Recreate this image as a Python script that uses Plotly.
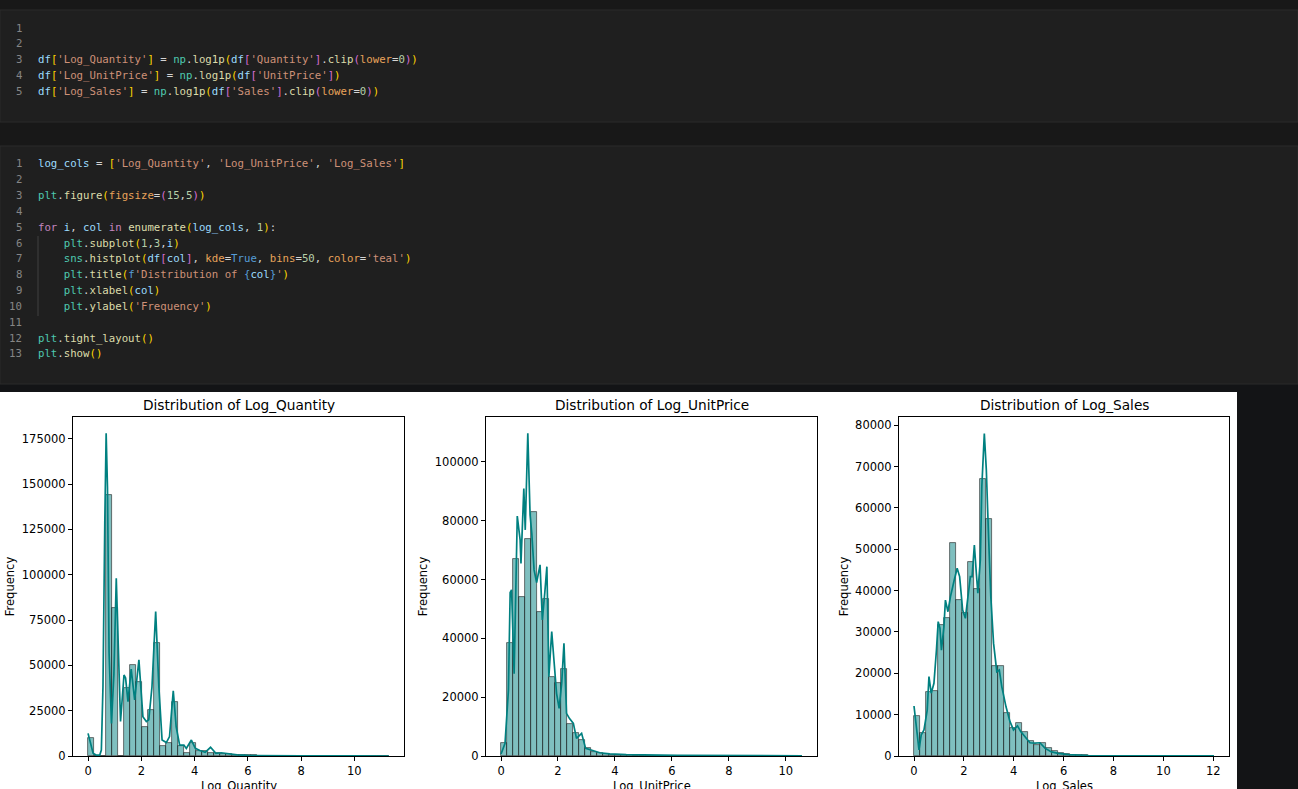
import numpy as np
import plotly.graph_objects as go
from plotly.subplots import make_subplots

W, H = 1298, 789

# ---- data ----
log_cols = ["Log_Quantity", "Log_UnitPrice", "Log_Sales"]
data_max = [11.30, 10.57, 12.03]

qty_counts = [9750, 0, 0, 143900, 81500, 0, 37700, 50050, 40850, 16000,
              25400, 62200, 5500, 7400, 30000, 5500, 1800, 7400, 2800, 2500,
              1500, 1800, 1200, 1000, 800, 600, 400, 300, 200, 150,
              100, 80, 60, 50, 40, 30, 20, 15, 10, 10,
              5, 5, 3, 2, 0, 0, 1, 0, 0, 1]
price_counts = [4300, 38500, 66900, 54000, 73700, 82900, 48900, 53400, 26800, 24700,
                29500, 11000, 7700, 5400, 2600, 1500, 1000, 700, 500, 350,
                250, 180, 120, 90, 70, 50, 40, 30, 25, 20,
                15, 12, 10, 8, 6, 5, 4, 3, 3, 2,
                2, 1, 1, 1, 0, 1, 0, 0, 0, 1]
sales_counts = [9700, 5500, 15400, 15700, 31600, 33500, 51600, 37700, 34500, 46900,
                40500, 67000, 57300, 21800, 21800, 10300, 6700, 8000, 5900, 3700,
                2700, 3200, 1900, 1200, 800, 500, 300, 200, 130, 90,
                60, 40, 30, 20, 15, 10, 8, 6, 5, 4,
                3, 2, 2, 1, 1, 1, 0, 0, 0, 1]

qty_kde_x = [0, 0.1, 0.19, 0.3, 0.44, 0.5, 0.56, 0.63, 0.68, 0.73, 0.79, 0.88,
             0.97, 1.06, 1.14, 1.22, 1.35, 1.41, 1.5, 1.62, 1.75, 1.91, 2.06,
             2.19, 2.28, 2.4, 2.54, 2.66, 2.78, 2.94, 3.06, 3.2, 3.31, 3.44,
             3.6, 3.69, 3.88, 4.03, 4.2, 4.4, 4.6, 4.8, 5.0, 5.3, 5.6, 6.0,
             7.0, 8.0, 10.0, 11.30]
qty_kde_y = [12500, 7000, 1500, 500, 500, 3300, 38000, 130000, 178000, 148000,
             57000, 18000, 45000, 98000, 60000, 19000, 44700, 43000, 30000,
             48000, 31000, 53000, 21700, 19000, 20000, 38000, 79700, 38000,
             8800, 7400, 10700, 36000, 16000, 6000, 6000, 4200, 8800, 4200,
             3000, 2000, 4800, 1500, 1800, 1200, 600, 300, 100, 50, 20, 10]

price_kde_x = [0, 0.14, 0.26, 0.32, 0.37, 0.46, 0.57, 0.67, 0.70, 0.8, 0.85,
               0.94, 1.02, 1.08, 1.16, 1.25, 1.37, 1.45, 1.54, 1.61, 1.68,
               1.78, 1.86, 1.95, 2.04, 2.13, 2.21, 2.30, 2.40, 2.54, 2.65,
               2.83, 2.97, 3.18, 3.47, 3.82, 4.4, 6.2, 8.5, 10.57]
price_kde_y = [700, 4300, 22500, 55600, 56500, 28000, 81600, 73500, 65500,
               91000, 76900, 109800, 82000, 75700, 63300, 59000, 65000, 46300,
               55900, 64400, 27000, 42300, 32400, 21300, 16200, 24700, 38300,
               14500, 12800, 11100, 6000, 7700, 2600, 2000, 1100, 700, 450,
               200, 100, 50]

sales_kde_x = [0, 0.09, 0.2, 0.29, 0.4, 0.53, 0.6, 0.69, 0.8, 0.9, 0.97, 1.04,
               1.1, 1.2, 1.26, 1.36, 1.46, 1.6, 1.73, 1.83, 1.95, 2.06, 2.17,
               2.26, 2.33, 2.42, 2.5, 2.56, 2.66, 2.72, 2.82, 2.9, 2.99, 3.08,
               3.19, 3.32, 3.42, 3.52, 3.69, 3.85, 3.99, 4.15, 4.28, 4.45,
               4.65, 4.85, 5.05, 5.25, 5.51, 5.78, 6.2, 7.0, 8.0, 10.0, 12.03]
sales_kde_y = [12100, 6700, 1500, 5100, 6300, 11100, 19200, 15200, 17600,
               25600, 32500, 30900, 25600, 31300, 37700, 34900, 38500, 42200,
               45400, 43400, 35300, 33300, 38500, 43400, 43400, 51000, 44200,
               39400, 47400, 65200, 78000, 69200, 53100, 38500, 27300, 20400,
               20800, 16800, 11900, 8300, 6300, 7300, 5900, 4700, 3200, 3100,
               3200, 1900, 1000, 650, 350, 120, 60, 30, 15]

counts = [qty_counts, price_counts, sales_counts]
kde_x = [qty_kde_x, price_kde_x, sales_kde_x]
kde_y = [qty_kde_y, price_kde_y, sales_kde_y]
y_ticks = [list(range(0, 175001, 25000)), list(range(0, 100001, 20000)),
           list(range(0, 80001, 10000))]
x_ticks = [[0, 2, 4, 6, 8, 10], [0, 2, 4, 6, 8, 10], [0, 2, 4, 6, 8, 10, 12]]


def px(x):
    return x / W


def py(y):
    return 1 - y / H


# ---- notebook code cells ----
BL, YL, PU, STR, FN, MOD, OP, NUM, KW, PAR, BLU = (
    "#9cdcfe", "#ffd700", "#da70d6", "#ce9178", "#dcdcaa", "#4ec9b0",
    "#d4d4d4", "#b5cea8", "#c586c0", "#e8a35a", "#569cd6")

cell1 = [
    [],
    [],
    [("df", BL), ("[", YL), ("'Log_Quantity'", STR), ("]", YL), (" = ", OP),
     ("np", MOD), (".", OP), ("log1p", FN), ("(", YL), ("df", BL), ("[", PU),
     ("'Quantity'", STR), ("]", PU), (".", OP), ("clip", FN), ("(", PU),
     ("lower", PAR), ("=", OP), ("0", NUM), (")", PU), (")", YL)],
    [("df", BL), ("[", YL), ("'Log_UnitPrice'", STR), ("]", YL), (" = ", OP),
     ("np", MOD), (".", OP), ("log1p", FN), ("(", YL), ("df", BL), ("[", PU),
     ("'UnitPrice'", STR), ("]", PU), (")", YL)],
    [("df", BL), ("[", YL), ("'Log_Sales'", STR), ("]", YL), (" = ", OP),
     ("np", MOD), (".", OP), ("log1p", FN), ("(", YL), ("df", BL), ("[", PU),
     ("'Sales'", STR), ("]", PU), (".", OP), ("clip", FN), ("(", PU),
     ("lower", PAR), ("=", OP), ("0", NUM), (")", PU), (")", YL)],
]

cell2 = [
    [("log_cols", BL), (" = ", OP), ("[", YL), ("'Log_Quantity'", STR), (", ", OP),
     ("'Log_UnitPrice'", STR), (", ", OP), ("'Log_Sales'", STR), ("]", YL)],
    [],
    [("plt", MOD), (".", OP), ("figure", FN), ("(", YL), ("figsize", PAR),
     ("=", OP), ("(", PU), ("15", NUM), (",", OP), ("5", NUM), (")", PU), (")", YL)],
    [],
    [("for", KW), (" ", OP), ("i", BL), (", ", OP), ("col", BL), (" ", OP),
     ("in", KW), (" ", OP), ("enumerate", FN), ("(", YL), ("log_cols", BL),
     (", ", OP), ("1", NUM), (")", YL), (":", OP)],
    [("    ", OP), ("plt", MOD), (".", OP), ("subplot", FN), ("(", YL), ("1", NUM),
     (",", OP), ("3", NUM), (",", OP), ("i", BL), (")", YL)],
    [("    ", OP), ("sns", MOD), (".", OP), ("histplot", FN), ("(", YL), ("df", BL),
     ("[", PU), ("col", BL), ("]", PU), (", ", OP), ("kde", PAR), ("=", OP),
     ("True", BLU), (", ", OP), ("bins", PAR), ("=", OP), ("50", NUM), (", ", OP),
     ("color", PAR), ("=", OP), ("'teal'", STR), (")", YL)],
    [("    ", OP), ("plt", MOD), (".", OP), ("title", FN), ("(", YL), ("f", BLU),
     ("'Distribution of ", STR), ("{", BLU), ("col", BL), ("}", BLU), ("'", STR),
     (")", YL)],
    [("    ", OP), ("plt", MOD), (".", OP), ("xlabel", FN), ("(", YL), ("col", BL),
     (")", YL)],
    [("    ", OP), ("plt", MOD), (".", OP), ("ylabel", FN), ("(", YL),
     ("'Frequency'", STR), (")", YL)],
    [],
    [("plt", MOD), (".", OP), ("tight_layout", FN), ("(", YL), (")", YL)],
    [("plt", MOD), (".", OP), ("show", FN), ("(", YL), (")", YL)],
]


def to_html(tokens):
    return "".join("<span style='color:%s'>%s</span>" % (c, t.replace(" ", "\u00a0"))
                   for t, c in tokens)


annotations = []
code_font = dict(family="DejaVu Sans Mono, Liberation Mono, monospace", size=10.7)
for cell, y0 in [(cell1, 28), (cell2, 164)]:
    for n, tokens in enumerate(cell):
        y = y0 + n * 15.83
        annotations.append(dict(x=px(24), y=py(y), xref="paper", yref="paper",
                                text=str(n + 1), showarrow=False, xanchor="right",
                                yanchor="middle", font=dict(code_font, color="#858585")))
        if tokens:
            annotations.append(dict(x=px(36), y=py(y), xref="paper", yref="paper",
                                    text=to_html(tokens), showarrow=False,
                                    xanchor="left", yanchor="middle",
                                    font=dict(code_font, color=OP)))

shapes = [
    dict(type="rect", xref="paper", yref="paper", x0=0, x1=1, y0=py(384), y1=1,
         fillcolor="#181818", line_width=0, layer="below"),
    dict(type="rect", xref="paper", yref="paper", x0=0, x1=1, y0=py(122), y1=py(10),
         fillcolor="#1f1f1f", line=dict(color="#2b2b2b", width=1), layer="below"),
    dict(type="rect", xref="paper", yref="paper", x0=0, x1=1, y0=py(384), y1=py(146),
         fillcolor="#1f1f1f", line=dict(color="#2b2b2b", width=1), layer="below"),
    dict(type="line", xref="paper", yref="paper", x0=px(38), x1=px(38),
         y0=py(316), y1=py(236), line=dict(color="#404040", width=1)),
    dict(type="rect", xref="paper", yref="paper", x0=0, x1=px(1237), y0=0, y1=py(392),
         fillcolor="white", line_width=0, layer="below"),
]

# ---- histograms ----
fig = make_subplots(rows=1, cols=3)
x_dom = [(73, 404), (486, 817), (899, 1229)]
y_top = [187000, 115300, 82000]

for i, col in enumerate(log_cols):
    edges = np.linspace(0, data_max[i], 51)
    bw = edges[1] - edges[0]
    centers = edges[:-1] + bw / 2
    fig.add_trace(go.Bar(x=centers, y=counts[i], width=bw,
                         marker=dict(color="rgba(0,128,128,0.5)",
                                     line=dict(color="rgba(30,30,30,0.75)", width=0.8)),
                         showlegend=False), row=1, col=i + 1)
    fig.add_trace(go.Scatter(x=kde_x[i], y=kde_y[i], mode="lines",
                             line=dict(color="#008080", width=1.7),
                             showlegend=False), row=1, col=i + 1)
    pad = data_max[i] * 0.05
    fig.update_xaxes(domain=[px(x_dom[i][0]), px(x_dom[i][1])],
                     range=[-pad, data_max[i] + pad], tickvals=x_ticks[i],
                     row=1, col=i + 1)
    fig.update_yaxes(domain=[py(756), py(417)], range=[0, y_top[i]],
                     tickvals=y_ticks[i], tickformat="d",
                     title=dict(text="Frequency", standoff=4, font=dict(size=11.5)),
                     row=1, col=i + 1)
    mid = px((x_dom[i][0] + x_dom[i][1]) / 2)
    # subplot title and x label (matplotlib style placement; the label is
    # cut by the bottom edge in the original screenshot too)
    annotations.append(dict(x=mid, y=py(405), xref="paper", yref="paper",
                            showarrow=False, text="Distribution of " + col,
                            xanchor="center", yanchor="middle",
                            font=dict(size=13.7, color="black")))
    annotations.append(dict(x=mid, y=py(785.5), xref="paper", yref="paper",
                            showarrow=False, text=col, xanchor="center",
                            yanchor="middle", font=dict(size=11.5, color="black")))

fig.update_xaxes(showline=True, mirror=True, linecolor="black", linewidth=1,
                 ticks="outside", ticklen=4, tickwidth=1, tickcolor="black",
                 ticklabelstandoff=0, automargin=False,
                 showgrid=False, zeroline=False, tickfont=dict(size=11.5))
fig.update_yaxes(showline=True, mirror=True, linecolor="black", linewidth=1,
                 ticks="outside", ticklen=4, tickwidth=1, tickcolor="black",
                 automargin=False,
                 showgrid=False, zeroline=False, tickfont=dict(size=11.5))

fig.update_layout(
    width=W, height=H,
    margin=dict(l=0, r=0, t=0, b=0),
    paper_bgcolor="#131416",
    plot_bgcolor="white",
    bargap=0,
    font=dict(family="DejaVu Sans, sans-serif", size=11.5, color="black"),
    shapes=shapes,
    annotations=annotations,
)

fig.write_html("out.html", config=dict(displayModeBar=False),
               post_script="document.body.style.margin='0';")
